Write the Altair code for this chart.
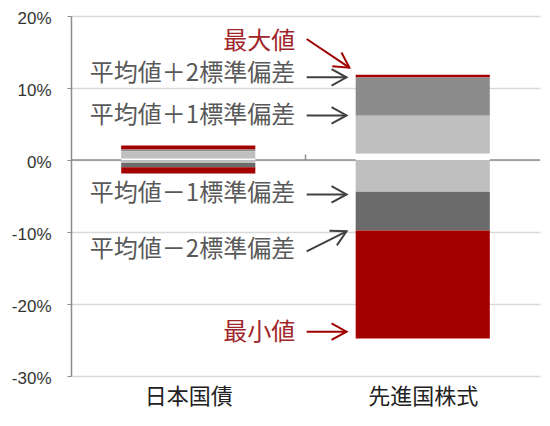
import math
import altair as alt
import pandas as pd

# ---- data ----
categories = ["日本国債", "先進国株式"]
maximum = [2.0, 11.85]
plus2 = [1.45, 11.45]
plus1 = [1.2, 6.15]
base = [0.18, 0.88]
minus1 = [-0.43, -4.4]
minus2 = [-1.0, -9.8]
minimum = [-1.87, -24.8]

seg_keys = ["max", "p2", "p1", "gap", "n1", "n2", "min"]
seg_colors = ["#a50000", "#8c8c8c", "#bfbfbf", "#ffffff", "#bfbfbf", "#6b6b6b", "#a50000"]

ann_text = ["最大値", "平均値＋2標準偏差", "平均値＋1標準偏差",
            "平均値－1標準偏差", "平均値－2標準偏差", "最小値"]
ann_color = ["#a0262b", "#595959", "#595959", "#595959", "#595959", "#a0262b"]
arrow_color = ["#a00000", "#404040", "#404040", "#404040", "#404040", "#a00000"]
ann_y = [16.4, 11.9, 6.1, -4.75, -12.5, -24.0]
ann_x = 0.956
arrow_x0 = 1.005
arrow_x1 = [1.187, 1.175, 1.175, 1.175, 1.175, 1.175]
arrow_y0 = [16.8, 11.48, 6.19, -4.78, -12.7, -23.85]
arrow_y1 = [12.83, 11.48, 6.19, -4.78, -9.9, -23.85]

y_ticks = [-30, -20, -10, 0, 10, 20]

W, H = 469, 360
PX_X = W / 2.0
PX_Y = H / 50.0
BAR_HALF = 0.286

# ---- tables ----
rows = []
for i, cat in enumerate(categories):
    bounds = [maximum[i], plus2[i], plus1[i], base[i], 0.0, minus1[i], minus2[i], minimum[i]]
    pairs = [(bounds[0], bounds[1]), (bounds[1], bounds[2]), (bounds[2], bounds[3]),
             (bounds[3], 0.0), (0.0, bounds[5]), (bounds[5], bounds[6]), (bounds[6], bounds[7])]
    for k, (a, b) in zip(seg_keys, pairs):
        rows.append({"cat": cat, "seg": k, "x": i + 0.5 - BAR_HALF, "x2": i + 0.5 + BAR_HALF,
                     "y": a, "y2": b})
bars_df = pd.DataFrame(rows)

ann_rows = []
for j, t in enumerate(ann_text):
    dx = (arrow_x1[j] - arrow_x0) * PX_X
    dy = -(arrow_y1[j] - arrow_y0[j]) * PX_Y
    ang = math.degrees(math.atan2(dy, dx)) % 360
    ann_rows.append({"text": t, "tc": ann_color[j], "ac": arrow_color[j], "ty": ann_y[j],
                     "tx": ann_x, "x0": arrow_x0, "x1": arrow_x1[j],
                     "y0": arrow_y0[j], "y1": arrow_y1[j], "angle": ang})
ann_df = pd.DataFrame(ann_rows)

zero_df = pd.DataFrame({"y": [0.0], "x": [0.0], "x2": [2.0]})
tick_df = pd.DataFrame({"x": [1.0], "y": [0.0], "y2": [0.75]})

xs = alt.Scale(domain=[0, 2], nice=False, zero=False)
ys = alt.Scale(domain=[-30, 20], nice=False, zero=False)

FONT = "Noto Sans CJK JP"

x_axis = alt.Axis(values=[0.5, 1.5], grid=False, domain=False, ticks=False, title=None,
                  labelExpr="datum.value < 1 ? '日本国債' : '先進国株式'",
                  labelFont=FONT, labelFontSize=22, labelColor="#222222", labelPadding=10)
y_axis = alt.Axis(values=y_ticks, labelExpr="datum.value + '%'",
                  title=None, grid=True, gridColor="#d9d9d9", gridWidth=1.5,
                  domainColor="#8c8c8c", domainWidth=1.5, tickColor="#8c8c8c", tickSize=4,
                  labelFont="Liberation Sans", labelFontSize=17, labelColor="#333333",
                  labelPadding=16, labelOffset=2)

zero_rule = alt.Chart(zero_df).mark_rule(color="#8c8c8c", strokeWidth=1.5).encode(
    x=alt.X("x:Q", scale=xs, axis=x_axis),
    x2="x2:Q",
    y=alt.Y("y:Q", scale=ys, axis=y_axis),
)

bars = alt.Chart(bars_df).mark_bar(opacity=1).encode(
    x=alt.X("x:Q", scale=xs),
    x2="x2:Q",
    y=alt.Y("y:Q", scale=ys),
    y2="y2:Q",
    color=alt.Color("seg:N", scale=alt.Scale(domain=seg_keys, range=seg_colors), legend=None),
)

tick_rule = alt.Chart(tick_df).mark_rule(color="#8c8c8c", strokeWidth=1.5).encode(
    x=alt.X("x:Q", scale=xs), y=alt.Y("y:Q", scale=ys), y2="y2:Q",
)

texts = alt.Chart(ann_df).mark_text(align="right", baseline="middle", fontSize=24, font=FONT).encode(
    x=alt.X("tx:Q", scale=xs), y=alt.Y("ty:Q", scale=ys), text="text:N",
    color=alt.Color("tc:N", scale=None),
)

shafts = alt.Chart(ann_df).mark_rule(strokeWidth=2).encode(
    x=alt.X("x0:Q", scale=xs), x2="x1:Q",
    y=alt.Y("y0:Q", scale=ys), y2="y1:Q",
    color=alt.Color("ac:N", scale=None),
)

heads = alt.Chart(ann_df).mark_point(shape="M-1,-0.55L0,0L-1,0.55", filled=False, size=900,
                                     strokeWidth=2, opacity=1).encode(
    x=alt.X("x1:Q", scale=xs), y=alt.Y("y1:Q", scale=ys),
    angle=alt.Angle("angle:Q", scale=None),
    color=alt.Color("ac:N", scale=None),
)

chart = alt.layer(zero_rule, bars, tick_rule, texts, shafts, heads).properties(
    width=W, height=H,
    autosize=alt.AutoSizeParams(type="none"),
    padding={"left": 63, "top": 8, "right": 2, "bottom": 36},
    background="white",
).configure_view(stroke=None)

chart.save("out.html", embed_options={"renderer": "svg", "actions": False})
